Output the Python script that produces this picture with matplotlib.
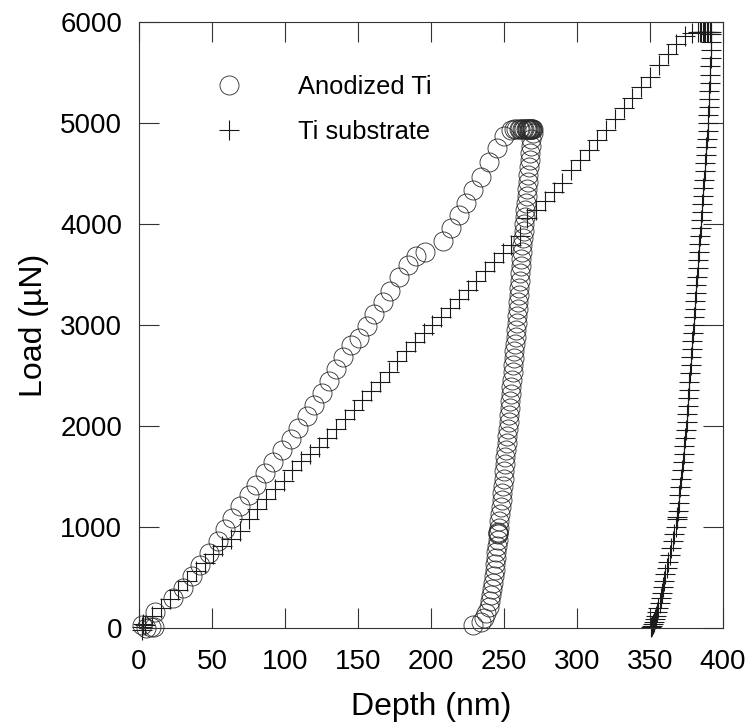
import numpy as np
import matplotlib.pyplot as plt

plt.rcParams['font.family'] = ['Liberation Sans', 'DejaVu Sans']

# Anodized Ti: loading, hold at peak load, unloading
ano_load_depth = [2, 5, 8, 10, 11, 23, 30, 36, 42, 48, 54, 59, 64, 69, 75, 80, 86, 92,
                  98, 104, 109, 115, 120, 125, 130, 135, 140, 145, 151, 156, 161, 167,
                  172, 178, 184, 190, 196, 208, 214, 219, 224, 229, 234, 240, 245, 250, 255]
ano_load_load = [30, 0, 10, 5, 160, 300, 400, 510, 620, 740, 860, 980, 1090, 1210, 1320,
                 1420, 1530, 1640, 1760, 1870, 1980, 2100, 2210, 2330, 2450, 2560, 2680,
                 2800, 2870, 2990, 3110, 3230, 3340, 3480, 3590, 3680, 3720, 3830, 3960,
                 4090, 4210, 4340, 4470, 4610, 4750, 4870, 4930]

ano_hold_depth = [257, 258.5, 260, 261, 262, 263, 264, 265, 265.5, 266, 266.5, 267,
                  267.5, 268, 268.5, 269, 269.5, 270]
ano_hold_load = [4940, 4945, 4940, 4940, 4945, 4940, 4940, 4945, 4940, 4940, 4945, 4940,
                 4940, 4945, 4940, 4940, 4945, 4940]

ano_unload_load = [4900, 4840, 4770, 4700, 4630, 4560, 4490, 4420, 4350, 4280,
                   4210, 4140, 4070, 4000, 3930, 3860, 3790, 3720, 3650, 3580,
                   3510, 3440, 3370, 3300, 3230, 3160, 3090, 3020, 2950, 2880,
                   2810, 2740, 2670, 2600, 2530, 2460, 2390, 2320, 2250, 2180,
                   2110, 2040, 1970, 1900, 1830, 1760, 1690, 1620, 1550, 1480,
                   1410, 1340, 1270, 1200, 1130, 1060, 990, 950, 940, 930,
                   870, 810, 750, 690, 630, 570, 510, 450, 390, 330,
                   270, 210, 150, 100, 60, 30]
ano_unload_depth = [270.0, 268.8, 268.3, 267.9, 267.5, 267.1, 266.7, 266.3, 265.9, 265.5,
                    265.1, 264.6, 264.2, 263.8, 263.4, 263.0, 262.6, 262.3, 261.9, 261.6,
                    261.2, 260.9, 260.5, 260.1, 259.8, 259.4, 259.0, 258.7, 258.3, 257.9,
                    257.5, 257.1, 256.7, 256.3, 255.9, 255.5, 255.1, 254.7, 254.3, 253.9,
                    253.5, 253.1, 252.7, 252.3, 251.9, 251.5, 251.0, 250.6, 250.1, 249.7,
                    249.2, 248.8, 248.3, 247.8, 247.3, 246.8, 246.3, 246.0, 246.0, 246.0,
                    245.6, 245.2, 244.8, 244.4, 243.9, 243.5, 243.0, 242.5, 241.9, 241.3,
                    240.5, 239.5, 238.0, 236.5, 234.5, 229.0]

# Ti substrate: loading, hold, unloading
sub_load_depth = [2, 2, 3, 4, 9, 15, 21, 27, 33, 39, 45, 51, 57, 63, 69, 75, 81, 87, 93,
                  99, 105, 111, 117, 123, 129, 135, 141, 147, 153, 159, 165, 171, 177,
                  183, 189, 195, 201, 207, 213, 219, 225, 231, 237, 243, 249, 255, 261,
                  266, 272, 278, 284, 290, 296, 302, 308, 314, 320, 326, 332, 338, 344,
                  350, 356, 362, 368, 374, 379]
sub_load_load = [-20, 10, 40, 30, 120, 200, 290, 380, 470, 560, 640, 730, 810, 880, 960,
                 1080, 1180, 1280, 1380, 1460, 1560, 1650, 1720, 1790, 1880, 1970, 2070,
                 2160, 2260, 2350, 2440, 2530, 2640, 2740, 2830, 2920, 3000, 3080, 3170,
                 3260, 3350, 3440, 3530, 3620, 3710, 3790, 3880, 4060, 4140, 4230, 4320,
                 4410, 4530, 4630, 4730, 4830, 4930, 5040, 5150, 5250, 5360, 5460, 5570,
                 5680, 5780, 5860, 5895]

sub_hold_depth = [383, 384, 385, 386, 387, 388, 389, 390, 391, 392]
sub_hold_load = [5900, 5900, 5905, 5900, 5900, 5905, 5900, 5900, 5905, 5900]

sub_unload_load = [5880, 5800, 5720, 5640, 5560, 5480, 5400, 5320, 5240, 5160,
                   5080, 5000, 4920, 4840, 4760, 4680, 4600, 4520, 4440, 4360,
                   4280, 4200, 4120, 4040, 3960, 3880, 3800, 3720, 3640, 3560,
                   3480, 3400, 3320, 3240, 3160, 3080, 3000, 2920, 2840, 2760,
                   2680, 2600, 2520, 2440, 2360, 2280, 2200, 2120, 2040, 1960,
                   1880, 1800, 1720, 1640, 1560, 1480, 1400, 1320, 1240, 1160,
                   1100, 1080, 1000, 930, 860, 790, 720, 650, 590, 530,
                   470, 410, 350, 300, 250, 200, 160, 120, 90, 60,
                   40, 20, 5]
sub_unload_depth = [391.5, 391.8, 391.8, 391.6, 391.3, 391.0, 390.8, 390.6, 390.4, 390.2,
                    390.0, 389.8, 389.4, 389.0, 388.6, 388.2, 387.8, 387.4, 387.0, 386.6,
                    386.2, 385.8, 385.4, 385.0, 384.6, 384.2, 383.8, 383.4, 383.0, 382.6,
                    382.2, 381.8, 381.4, 381.0, 380.6, 380.2, 379.8, 379.4, 379.0, 378.6,
                    378.2, 377.8, 377.4, 377.0, 376.6, 376.2, 375.8, 375.4, 375.0, 374.5,
                    374.0, 373.5, 373.0, 372.4, 371.9, 371.3, 370.8, 370.2, 369.6, 369.0,
                    368.4, 368.3, 367.5, 366.6, 365.7, 364.7, 363.7, 362.6, 361.6, 360.6,
                    359.8, 359.0, 358.2, 357.4, 356.6, 355.6, 354.8, 354.0, 353.3, 352.7,
                    352.2, 351.6, 351.0]

ano_depth = ano_load_depth + ano_hold_depth + ano_unload_depth
ano_load = ano_load_load + ano_hold_load + ano_unload_load
sub_depth = sub_load_depth + sub_hold_depth + sub_unload_depth
sub_load = sub_load_load + sub_hold_load + sub_unload_load

fig = plt.figure(figsize=(7.45, 7.23), dpi=100)
ax = fig.add_axes([139 / 745, 95 / 723, 584 / 745, 606 / 723])

ax.plot(sub_depth, sub_load, ls='none', marker='+', ms=14.4, mec='#1a1a1a', mew=0.8,
        clip_on=False, label='Ti substrate')
ax.plot(ano_depth, ano_load, ls='none', marker='o', ms=13.7, mfc='none', mec='#2a2a2a',
        mew=0.6, clip_on=False, label='Anodized Ti')

ax.set_xlim(0, 400)
ax.set_ylim(0, 6000)
ax.set_xticks(np.arange(0, 401, 50))
ax.set_yticks(np.arange(0, 6001, 1000))
ax.tick_params(direction='in', length=14.4, width=0.8, color='#333333',
               top=True, right=True, labelsize=20, pad=12)
ax.tick_params(axis='x', pad=15)
for s in ax.spines.values():
    s.set_linewidth(0.8)
    s.set_color('#333333')

ax.set_xlabel('Depth (nm)', fontsize=23, labelpad=12.5)
ax.set_ylabel('Load (µN)', fontsize=23, labelpad=8)

h, l = ax.get_legend_handles_labels()
ax.legend(h[::-1], l[::-1], loc='upper left', bbox_to_anchor=(209 / 745, 1 - 75 / 723),
          bbox_transform=fig.transFigure, frameon=False, fontsize=18.4,
          handlelength=1.6, handletextpad=1.9, borderpad=0, borderaxespad=0,
          labelspacing=0.82)

fig.savefig('out.png', dpi=100)
